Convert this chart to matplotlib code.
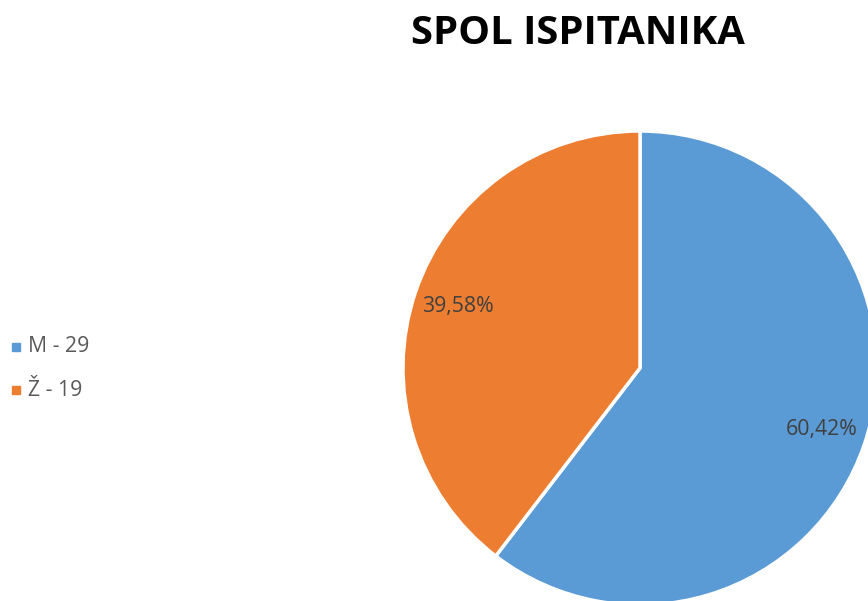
import matplotlib
matplotlib.use('Agg')
import matplotlib.pyplot as plt
from matplotlib.patches import Rectangle

# data
labels = ['M', 'Ž']
counts = [29, 19]
colors = ['#5B9BD5', '#ED7D31']
title = 'SPOL ISPITANIKA'

plt.rcParams['font.family'] = ['Open Sans', 'DejaVu Sans']

W, H = 868, 601
fig = plt.figure(figsize=(W / 100, H / 100), dpi=100)
ax = fig.add_axes([0, 0, 1, 1])

# pie in pixel coordinates (it runs off the right and bottom edge)
wedges, texts, autotexts = ax.pie(
    counts, colors=colors, startangle=90, counterclock=False,
    center=(640, H - 368), radius=237, pctdistance=0.81,
    autopct=lambda p: f'{p:.2f}%'.replace('.', ','),
    wedgeprops=dict(edgecolor='white', linewidth=2.5),
    textprops=dict(color='#404040', fontsize=15.3))

ax.set_xlim(0, W)
ax.set_ylim(0, H)
ax.set_aspect('equal')
ax.axis('off')

# title
fig.text(578 / W, 1 - 34 / H, title, ha='center', va='center',
         fontsize=28.8, fontweight='bold', color='black')

# legend
for i, (lab, n, c) in enumerate(zip(labels, counts, colors)):
    y = H - (347 + i * 43)
    ax.add_patch(Rectangle((12, y - 4), 8, 8, color=c, clip_on=False))
    ax.text(28, y, f'{lab} - {n}', ha='left', va='center',
            fontsize=15.3, color='#595959')

fig.savefig('out.png', dpi=100)
